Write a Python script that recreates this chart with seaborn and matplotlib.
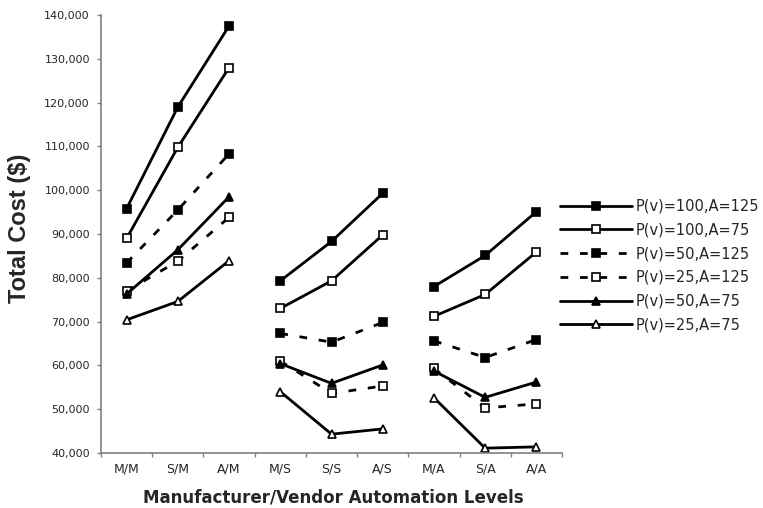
import numpy as np
import pandas as pd
import matplotlib
matplotlib.use("Agg")
import matplotlib.pyplot as plt
import seaborn as sns

categories = ["M/M", "S/M", "A/M", "M/S", "S/S", "A/S", "M/A", "S/A", "A/A"]
series_names = ["P(v)=100,A=125", "P(v)=100,A=75", "P(v)=50,A=125",
                "P(v)=25,A=125", "P(v)=50,A=75", "P(v)=25,A=75"]

p100_a125 = [95800, 119000, 137500, 79300, 88300, 99300, 78000, 85100, 95100]
p100_a75 = [89000, 109800, 128000, 73000, 79300, 89800, 71200, 76200, 85900]
p50_a125 = [83400, 95500, 108300, 67300, 65300, 69800, 65600, 61800, 65900]
p25_a125 = [77000, 83800, 93800, 61000, 53600, 55300, 59300, 50300, 51200]
p50_a75 = [76300, 86400, 98500, 60400, 55900, 60100, 58700, 52700, 56200]
p25_a75 = [70400, 74600, 83900, 54000, 44300, 45500, 52600, 41100, 41400]

values = [p100_a125, p100_a75, p50_a125, p25_a125, p50_a75, p25_a75]
dash = (0, (2.8, 4.2))
styles = [
    dict(marker="s", mfc="black", ls="-"),
    dict(marker="s", mfc="white", ls="-"),
    dict(marker="s", mfc="black", ls=dash),
    dict(marker="s", mfc="white", ls=dash),
    dict(marker="^", mfc="black", ls="-"),
    dict(marker="^", mfc="white", ls="-"),
]

rows = []
for name, vals in zip(series_names, values):
    for i, v in enumerate(vals):
        rows.append({"series": name, "x": i, "group": i // 3, "cost": v})
df = pd.DataFrame(rows)

sns.set_style("white")
plt.rcParams["font.family"] = ["DejaVu Sans"]

fig = plt.figure(figsize=(7.63, 5.08), dpi=100)
ax = fig.add_axes([0.1324, 0.1083, 0.6042, 0.8622])

handles = []
for name, st in zip(series_names, styles):
    sub = df[df["series"] == name]
    # each automation group is drawn on its own so the line breaks between groups
    for g in range(3):
        part = sub[sub["group"] == g]
        sns.lineplot(data=part, x="x", y="cost", ax=ax, color="black",
                     linewidth=2, marker=st["marker"], markersize=6.3,
                     markerfacecolor=st["mfc"], markeredgecolor="black",
                     markeredgewidth=1.2, linestyle=st["ls"], legend=False)
    handles.append(ax.lines[-1])

ax.set_xlim(-0.5, 8.5)
ax.set_ylim(40000, 140000)
ax.set_yticks(np.arange(40000, 140001, 10000))
ax.yaxis.set_major_formatter(matplotlib.ticker.FuncFormatter(lambda v, p: f"{int(v):,}"))
ax.set_xticks(range(9))
ax.set_xticklabels(categories, fontsize=9)
ax.set_xticks(np.arange(-0.5, 9, 1), minor=True)
ax.tick_params(axis="x", which="major", length=0, pad=7)
ax.tick_params(axis="x", which="minor", length=3, width=1, direction="out", color="#808080", bottom=True)
ax.tick_params(axis="y", length=3, width=1, pad=5, direction="out", color="#808080", labelsize=8, left=True)

for side in ["top", "right"]:
    ax.spines[side].set_visible(False)
for side in ["left", "bottom"]:
    ax.spines[side].set_color("#808080")
    ax.spines[side].set_linewidth(1.2)

ax.set_xlabel("")
ax.set_ylabel("")
fig.text(20 / 763, 1 - 228 / 508, "Total Cost ($)", rotation=90, ha="center", va="center",
         fontsize=17, fontweight="bold", family=["Liberation Sans", "DejaVu Sans"])
fig.text(333 / 763, 1 - 497 / 508, "Manufacturer/Vendor Automation Levels", ha="center",
         va="center", fontsize=12, fontweight="bold")

fig.legend(handles, series_names, loc="center left", bbox_to_anchor=(0.717, 1 - 265.5 / 508),
           frameon=False, fontsize=10.5, handlelength=4.9, labelspacing=0.6,
           handletextpad=0.27, markerscale=0.85)

fig.savefig("out.png", dpi=100)
